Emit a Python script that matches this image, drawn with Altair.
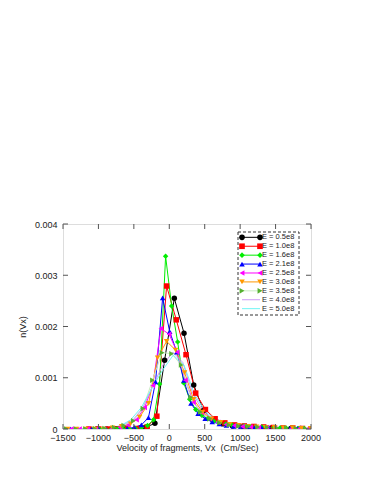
import altair as alt
import pandas as pd

# ---------------- data ----------------
labels = ["E = 0.5e8", "E = 1.0e8", "E = 1.6e8", "E = 2.1e8", "E = 2.5e8",
          "E = 3.0e8", "E = 3.5e8", "E = 4.0e8", "E = 5.0e8"]

x_05 = [-1025, -888, -751, -614, -477, -340, -203, -66, 71, 208, 345, 482, 619, 756,
        893, 1030, 1167, 1304, 1441, 1578, 1715, 1852, 1989]
y_05 = [0, 0, 0, 0, 0, 0.00003, 0.00011, 0.00134, 0.00255, 0.00187, 0.00086, 0.00036,
        0.00017, 0.0001, 0.00006, 0.00004, 0.00003, 0.00002, 0.00002, 0.00001, 0.00001,
        0.00001, 0]

x_10 = [-1134, -997, -860, -723, -586, -449, -312, -175, -38, 99, 236, 373, 510, 647,
        784, 921, 1058, 1195, 1332, 1469, 1606, 1743, 1880]
y_10 = [0, 0, 0, 0, 0, 0.00001, 0.00004, 0.00025, 0.00279, 0.00213, 0.00145, 0.0007,
        0.00038, 0.0002, 0.00012, 0.00008, 0.00006, 0.00005, 0.00004, 0.00003, 0.00002,
        0.00002, 0.00001]

x_16 = [-1072, -987, -902, -817, -732, -647, -562, -477, -392, -307, -222, -137, -52,
        33, 118, 203, 288, 373, 458, 543, 628, 713, 798, 883, 968, 1053, 1138, 1223,
        1308, 1393, 1478, 1563, 1648, 1733, 1818, 1903, 1988]
y_16 = [0, 0, 0, 0, 0, 0, 0, 0.00001, 0.00003, 0.00007, 0.00018, 0.00088, 0.00337,
        0.0024, 0.0017, 0.0009, 0.00058, 0.00038, 0.00027, 0.0002, 0.00015, 0.00012,
        0.0001, 0.00008, 0.00007, 0.00006, 0.00005, 0.00004, 0.00004, 0.00003, 0.00003,
        0.00002, 0.00002, 0.00002, 0.00001, 0.00001, 0]

x_21 = [-1394, -1294, -1194, -1094, -994, -894, -794, -694, -594, -494, -394, -294,
        -194, -94, 6, 106, 206, 306, 406, 506, 606, 706, 806, 906, 1006, 1106, 1206,
        1306, 1406, 1506, 1606, 1706, 1806, 1906]
y_21 = [0, 0, 0, 0, 0, 0, 0, 0, 0.00001, 0.00003, 0.00008, 0.00022, 0.00092, 0.00256,
        0.0019, 0.0015, 0.00095, 0.0005, 0.0003, 0.0002, 0.00014, 0.0001, 0.00007,
        0.00005, 0.00004, 0.00003, 0.00003, 0.00002, 0.00002, 0.00001, 0.00001, 0.00001,
        0.00001, 0]

x_25 = [-1383, -1268, -1153, -1038, -923, -808, -693, -578, -463, -348, -233, -118, -3,
        112, 227, 342, 457, 572, 687, 802, 917, 1032, 1147, 1262, 1377, 1492, 1607,
        1722, 1837, 1952]
y_25 = [0, 0, 0, 0, 0, 0.00001, 0.00003, 0.00008, 0.00018, 0.00042, 0.00085, 0.00196,
        0.00185, 0.0015, 0.00095, 0.00052, 0.00032, 0.0002, 0.00013, 0.00009, 0.00007,
        0.00005, 0.00004, 0.00003, 0.00003, 0.00002, 0.00002, 0.00001, 0.00001, 0]

x_30 = [-1435, -1308, -1181, -1054, -927, -800, -673, -546, -419, -292, -165, -38, 89,
        216, 343, 470, 597, 724, 851, 978, 1105, 1232, 1359, 1486, 1613, 1740, 1867, 1994]
y_30 = [0, 0, 0, 0, 0, 0.00002, 0.00005, 0.0001, 0.00023, 0.0005, 0.00139, 0.00171,
        0.00154, 0.0011, 0.00058, 0.00033, 0.0002, 0.00013, 0.00009, 0.00007, 0.00005,
        0.00004, 0.00003, 0.00003, 0.00002, 0.00002, 0.00001, 0.00001]

x_35 = [-1452, -1317, -1182, -1047, -912, -777, -642, -507, -372, -237, -102, 33, 168,
        303, 438, 573, 708, 843, 978, 1113, 1248, 1383, 1518, 1653, 1788, 1923]
y_35 = [0, 0, 0, 0, 0.00001, 0.00003, 0.00007, 0.00016, 0.0004, 0.00095, 0.00149,
        0.00147, 0.00125, 0.00062, 0.00033, 0.0002, 0.00012, 0.00008, 0.00006, 0.00005,
        0.00004, 0.00003, 0.00002, 0.00002, 0.00001, 0.00001]

x_40 = [-1350, -1210, -1070, -930, -790, -650, -510, -370, -230, -90, 50, 190, 330,
        470, 610, 750, 890, 1030, 1170, 1310, 1450, 1590, 1730, 1870]
y_40 = [0, 0, 0, 0, 0.00003, 0.00008, 0.00018, 0.00042, 0.00085, 0.00125, 0.0015,
        0.0013, 0.0007, 0.00036, 0.0002, 0.00013, 0.00009, 0.00006, 0.00005, 0.00004,
        0.00003, 0.00002, 0.00002, 0.00001]

x_50 = [-1294, -1144, -994, -844, -694, -544, -394, -244, -94, 56, 206, 356, 506, 656,
        806, 956, 1106, 1256, 1406, 1556, 1706, 1856]
y_50 = [0, 0, 0, 0, 0.00006, 0.00018, 0.00042, 0.0008, 0.00115, 0.00144, 0.00125,
        0.00068, 0.00034, 0.00019, 0.00012, 0.00008, 0.00006, 0.00004, 0.00003, 0.00002,
        0.00002, 0.00001]

xs = [x_05, x_10, x_16, x_21, x_25, x_30, x_35, x_40, x_50]
ys = [y_05, y_10, y_16, y_21, y_25, y_30, y_35, y_40, y_50]

x_ticks = [-1500, -1000, -500, 0, 500, 1000, 1500, 2000]
y_ticks = [0, 0.001, 0.002, 0.003, 0.004]

# ---------------- styles ----------------
marker_colors = ["#000000", "#ff0000", "#00ee00", "#0000ff", "#ff00ff",
                 "#ff9900", "#55b030", "#aa55ee", "#00e5e5"]
line_colors = ["#000000", "#ff0000", "#00ee00", "#0000ff", "#ff00ff",
               "#ff9900", "#c8ecc0", "#cc99f5", "#70f5f5"]
plus_path = "M-1,0H1M0,-1V1"
star_path = "M-1,0H1M0,-1V1M-0.7,-0.7L0.7,0.7M-0.7,0.7L0.7,-0.7"
shapes = ["circle", "square", "diamond", "triangle-up", "triangle-left",
          "triangle-down", "triangle-right", plus_path, star_path]

rows = []
for k, lab in enumerate(labels):
    for xv, yv in zip(xs[k], ys[k]):
        rows.append({"series": lab, "idx": k, "vx": xv, "n": yv})
df = pd.DataFrame(rows)

W, H = 248, 205
FONT = "Liberation Sans"
TXT = "#222"

xscale = alt.Scale(domain=[-1500, 2000], nice=False, zero=False)
yscale = alt.Scale(domain=[0, 0.004], nice=False)
stroke_line = alt.Scale(domain=labels, range=line_colors)
mark_scale = alt.Scale(domain=labels, range=marker_colors)
shape_scale = alt.Scale(domain=labels, range=shapes)

xenc = alt.X("vx:Q", scale=xscale,
             axis=alt.Axis(values=x_ticks,
                           title="Velocity of fragments, Vx\u00a0 (Cm/Sec)",
                           labels=False, ticks=False, domain=False, grid=False,
                           titleBaseline="middle", titleY=18.5, titleFontSize=9,
                           titleFont=FONT, titleFontWeight="normal", titleColor=TXT))
yenc = alt.Y("n:Q", scale=yscale,
             axis=alt.Axis(values=y_ticks, title="n(Vx)", ticks=False, domain=False,
                           grid=False, labelPadding=6, titlePadding=7, labelFontSize=9,
                           titleFontSize=9, labelFont=FONT, titleFont=FONT,
                           titleFontWeight="normal", labelColor=TXT, titleColor=TXT,
                           labelOverlap=False,
                           labelExpr="datum.value == 0 ? '0' : format(datum.value, '.3f')"))
xq = alt.X("vx:Q", scale=xscale)
yq = alt.Y("n:Q", scale=yscale)

base = alt.Chart(df)
lines = base.mark_line(strokeWidth=1, clip=True).encode(
    x=xenc, y=yenc,
    stroke=alt.Stroke("series:N", scale=stroke_line, legend=None),
    detail="series:N",
    order="vx:Q",
)
points = base.mark_point(filled=True, size=30, strokeWidth=0.8, opacity=1, clip=True).encode(
    x=xq, y=yq,
    fill=alt.Fill("series:N", scale=mark_scale, legend=None),
    color=alt.Color("series:N", scale=mark_scale, legend=None),
    shape=alt.Shape("series:N", scale=shape_scale, legend=None),
)

# inward ticks on all four sides, and the x tick labels
xt = pd.DataFrame({"vx": x_ticks})
yt = pd.DataFrame({"n": y_ticks})
tick_style = dict(color="#555", strokeWidth=1)
tb = alt.Chart(xt).mark_rule(**tick_style).encode(
    x=xq, y=alt.value(H), y2=alt.value(H - 5))
tt = alt.Chart(xt).mark_rule(**tick_style).encode(
    x=xq, y=alt.value(0), y2=alt.value(5))
tl = alt.Chart(yt).mark_rule(**tick_style).encode(
    y=yq, x=alt.value(0), x2=alt.value(5))
tr = alt.Chart(yt).mark_rule(**tick_style).encode(
    y=yq, x=alt.value(W), x2=alt.value(W - 5))
xlab = alt.Chart(xt).transform_calculate(lab="format(datum.vx, 'd')").mark_text(
    align="center", baseline="middle", fontSize=9, font=FONT, color=TXT).encode(
    x=xq, y=alt.value(H + 9), text="lab:N")

# legend (inside the plot, dashed box)
leg = pd.DataFrame({"series": labels, "idx": list(range(len(labels)))})
lbase = alt.Chart(leg).transform_calculate(n="0.00374 - datum.idx * 0.000174")
box = alt.Chart(leg.head(1)).mark_rect(
    fill="white", stroke="#333", strokeWidth=1, strokeDash=[3, 2]).encode(
    x=alt.value(175), x2=alt.value(236), y=alt.value(8), y2=alt.value(91))
lleg = lbase.mark_rule(strokeWidth=1).encode(
    x=alt.value(179), x2=alt.value(197), y=yq,
    stroke=alt.Stroke("series:N", scale=stroke_line, legend=None))
penc = dict(y=yq,
            fill=alt.Fill("series:N", scale=mark_scale, legend=None),
            color=alt.Color("series:N", scale=mark_scale, legend=None),
            shape=alt.Shape("series:N", scale=shape_scale, legend=None))
pl1 = lbase.mark_point(filled=True, size=32, strokeWidth=0.8, opacity=1).encode(
    x=alt.value(179), **penc)
pl2 = lbase.mark_point(filled=True, size=32, strokeWidth=0.8, opacity=1).encode(
    x=alt.value(197), **penc)
ltxt = lbase.mark_text(align="left", baseline="middle", fontSize=7.5, font=FONT,
                       color=TXT).encode(
    x=alt.value(199), y=yq, text="series:N")

chart = alt.layer(lines, points, tb, tt, tl, tr, xlab, box, lleg, pl1, pl2, ltxt).properties(
    width=W, height=H,
    autosize=alt.AutoSizeParams(type="none"),
    padding={"left": 55, "top": 216, "right": 55, "bottom": 47},
).configure_view(stroke="#555", strokeWidth=1).configure(background="white")

chart.save("out.html", embed_options={"renderer": "svg", "actions": False})
